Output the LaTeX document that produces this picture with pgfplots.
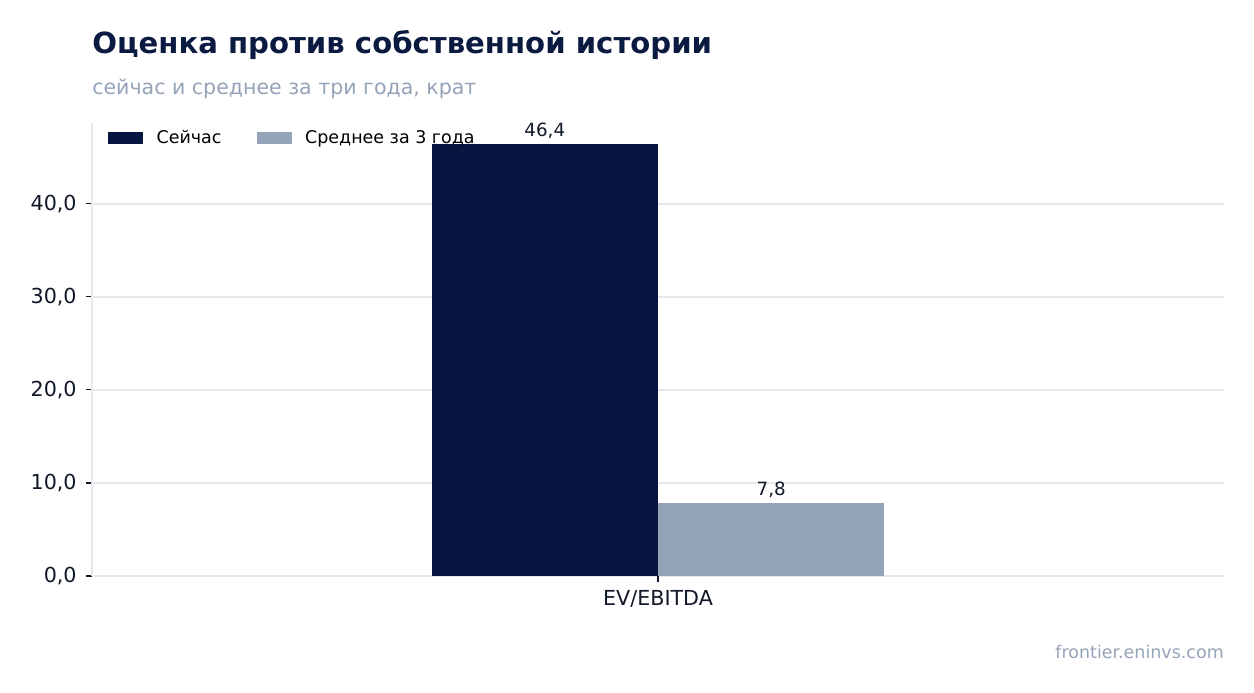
\documentclass[border=0pt]{standalone}
\usepackage{pgfplots}
\pgfplotsset{compat=1.18}
\usepackage{fontspec}
\setmainfont{DejaVu Sans}
\definecolor{navy}{HTML}{061640}
\definecolor{slate}{HTML}{94A3B8}
\definecolor{gridc}{HTML}{E5E7EB}
\definecolor{txt}{HTML}{111827}
\definecolor{titlec}{HTML}{0B1A40}
\begin{document}
\begin{tikzpicture}
\useasboundingbox (0,0) rectangle (940.5pt,519.75pt);
\node[anchor=base west, inner sep=0pt, text=titlec, font=\fontsize{21.85}{25}\selectfont\bfseries] at (69pt,479.25pt) {Оценка против собственной истории};
\node[anchor=base west, inner sep=0pt, text=slate, font=\fontsize{15.4}{18}\selectfont] at (69pt,448.5pt) {сейчас и среднее за три года, крат};
\node[anchor=base east, inner sep=0pt, text=slate, font=\fontsize{13.1}{15}\selectfont] at (918pt,25.5pt) {frontier.eninvs.com};
\begin{axis}[
  at={(69pt,87.75pt)}, anchor=south west,
  scale only axis, width=849pt, height=339.75pt,
  xmin=-1, xmax=1, ymin=0, ymax=48.7,
  ybar=0pt, bar width=0.4,
  xtick={0}, xticklabels={EV/EBITDA},
  ytick={0,10,20,30,40},
  axis x line*=bottom, axis y line*=left,
  x axis line style={draw=none},
  y axis line style={draw=gridc, line width=0.8pt},
  ymajorgrids, grid style={draw=gridc, line width=1pt},
  major tick length=4.5pt,
  tick style={draw=txt, line width=0.8pt},
  tick align=outside,
  ticklabel style={text=txt, font=\fontsize{15.5}{18}\selectfont},
  yticklabel style={xshift=-3.5pt},
  xticklabel style={yshift=-3pt},
  /pgf/number format/.cd, assume math mode=true, use comma, fixed, fixed zerofill, precision=1, 1000 sep={},
  /pgfplots/.cd,
  nodes near coords,
  every node near coord/.append style={text=txt, font=\fontsize{13.7}{16}\selectfont, yshift=1pt},
  legend style={at={(0,1)}, anchor=north west, draw=none, fill=none, xshift=9pt, yshift=-1.5pt,
     font=\fontsize{13.1}{16}\selectfont, text=black, legend columns=2,
     /tikz/every even column/.append style={column sep=24.5pt}},
  clip=false,
]
\addplot[fill=navy, draw=none, legend image code/.code={\fill[navy] (0pt,-4.5pt) rectangle (26pt,4.5pt); \path (34.25pt,0pt);}] coordinates {(0,46.4)};
\addlegendentry{Сейчас}
\addplot[fill=slate, draw=none, legend image code/.code={\fill[slate] (0pt,-4.5pt) rectangle (26pt,4.5pt); \path (34.25pt,0pt);}] coordinates {(0,7.8)};
\addlegendentry{Среднее за 3 года}
\end{axis}
\end{tikzpicture}
\end{document}
